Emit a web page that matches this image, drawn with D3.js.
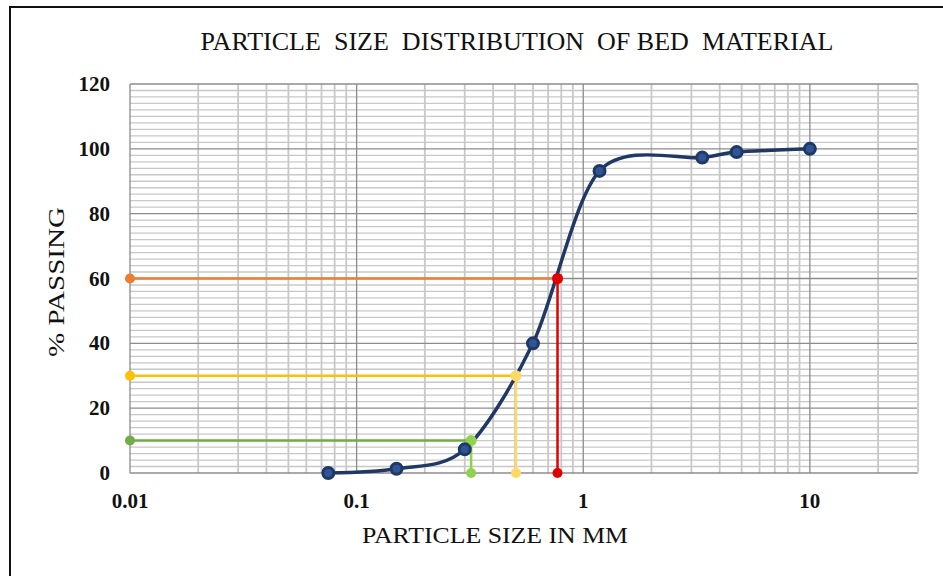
<!DOCTYPE html>
<html>
<head>
<meta charset="utf-8">
<script src="https://cdn.jsdelivr.net/npm/d3@7"></script>
<style>
  html, body { margin: 0; padding: 0; background: #fff; }
  svg { display: block; }
</style>
</head>
<body>
<div id="chart"></div>
<script>
// sieve results
const sizes = [0.075, 0.15, 0.3, 0.6, 1.18, 3.35, 4.75, 10];
const passing = [0, 1.3, 7.3, 40, 93.2, 97.3, 99, 100];

// D10 / D30 / D60 reading lines
const refLabels = ['D10', 'D30', 'D60'];
const refPercent = [10, 30, 60];
const refSize = [0.32, 0.505, 0.77];
const refHColor = ['#70AD47', '#FFC000', '#ED7D31'];
const refVColor = ['#92D050', '#FFD966', '#E00000'];

const yTicks = [0, 20, 40, 60, 80, 100, 120];
const xTicks = [0.01, 0.1, 1, 10];

const width = 943, height = 576;
const margin = { top: 84, right: 25, bottom: 103, left: 130 };

const svg = d3.select('#chart').append('svg')
  .attr('width', width)
  .attr('height', height);

// frame (left + top edges only, as cropped in the source)
svg.append('path')
  .attr('d', `M10,${height} V7 H${width}`)
  .attr('fill', 'none')
  .attr('stroke', '#111')
  .attr('stroke-width', 2);

const x = d3.scaleLog().domain([0.01, 30]).range([margin.left, width - margin.right]);
const y = d3.scaleLinear().domain([0, 120]).range([height - margin.bottom, margin.top]);

const grid = svg.append('g');

// minor horizontal lines every 2%
const yMinor = d3.range(0, 121, 2).filter(v => v % 20 !== 0);
grid.selectAll('.hminor').data(yMinor).join('line')
  .attr('x1', x.range()[0]).attr('x2', x.range()[1])
  .attr('y1', d => y(d)).attr('y2', d => y(d))
  .attr('stroke', '#c8c8c8').attr('stroke-width', 1.3);

// minor vertical lines 2..9 of each decade
const xMinor = x.ticks().filter(v => !xTicks.includes(v) && v <= 30);
grid.selectAll('.vminor').data(xMinor).join('line')
  .attr('x1', d => x(d)).attr('x2', d => x(d))
  .attr('y1', y(0)).attr('y2', y(120))
  .attr('stroke', '#c8c8c8').attr('stroke-width', 1.8);

grid.selectAll('.hmajor').data(yTicks).join('line')
  .attr('x1', x.range()[0]).attr('x2', x.range()[1])
  .attr('y1', d => y(d)).attr('y2', d => y(d))
  .attr('stroke', '#8c8c8c').attr('stroke-width', 1.3);

grid.selectAll('.vmajor').data(xTicks).join('line')
  .attr('x1', d => x(d)).attr('x2', d => x(d))
  .attr('y1', y(0)).attr('y2', y(120))
  .attr('stroke', '#8c8c8c').attr('stroke-width', 1.3);

grid.append('line')
  .attr('x1', x(30)).attr('x2', x(30))
  .attr('y1', y(0)).attr('y2', y(120))
  .attr('stroke', '#cfcfcf').attr('stroke-width', 2);

// axis labels
const serif = '"Liberation Serif", "DejaVu Serif", serif';

svg.append('g').selectAll('text').data(yTicks).join('text')
  .attr('x', 110).attr('y', d => y(d) + 7)
  .attr('text-anchor', 'end')
  .attr('font-family', serif).attr('font-weight', 'bold').attr('font-size', 21)
  .attr('fill', '#111')
  .text(d => d);

svg.append('g').selectAll('text').data(xTicks).join('text')
  .attr('x', d => x(d)).attr('y', 508)
  .attr('text-anchor', 'middle')
  .attr('font-family', serif).attr('font-weight', 'bold').attr('font-size', 21)
  .attr('fill', '#111')
  .text(d => d);

svg.append('text')
  .attr('x', 517).attr('y', 50)
  .attr('text-anchor', 'middle')
  .attr('font-family', serif).attr('font-size', 25)
  .attr('fill', '#111')
  .attr('textLength', 633)
  .attr('lengthAdjust', 'spacingAndGlyphs')
  .style('white-space', 'pre')
  .text('PARTICLE  SIZE  DISTRIBUTION  OF BED  MATERIAL');

svg.append('text')
  .attr('x', 495).attr('y', 543)
  .attr('text-anchor', 'middle')
  .attr('font-family', serif).attr('font-size', 24)
  .attr('fill', '#111')
  .attr('textLength', 266)
  .attr('lengthAdjust', 'spacingAndGlyphs')
  .text('PARTICLE SIZE IN MM');

svg.append('text')
  .attr('transform', 'translate(64,282) rotate(-90)')
  .attr('text-anchor', 'middle')
  .attr('font-family', serif).attr('font-size', 24)
  .attr('fill', '#111')
  .attr('textLength', 150)
  .attr('lengthAdjust', 'spacingAndGlyphs')
  .text('% PASSING');

// reference lines
const refs = refLabels.map((k, i) => ({
  key: k, p: refPercent[i], d: refSize[i], hc: refHColor[i], vc: refVColor[i]
}));

const refG = svg.append('g');
refs.forEach(r => {
  refG.append('line')
    .attr('x1', x(0.01)).attr('x2', x(r.d))
    .attr('y1', y(r.p)).attr('y2', y(r.p))
    .attr('stroke', r.hc).attr('stroke-width', 2.5);
  refG.append('circle')
    .attr('cx', x(0.01)).attr('cy', y(r.p)).attr('r', 5)
    .attr('fill', r.hc);
});

// main gradation curve
const pts = sizes.map((s, i) => [x(s), y(passing[i])]);
svg.append('path')
  .attr('d', d3.line().curve(d3.curveCardinal.tension(0.1))(pts))
  .attr('fill', 'none')
  .attr('stroke', '#1F3864')
  .attr('stroke-width', 3.5);

refs.forEach(r => {
  refG.append('line')
    .attr('x1', x(r.d)).attr('x2', x(r.d))
    .attr('y1', y(r.p)).attr('y2', y(0))
    .attr('stroke', r.vc).attr('stroke-width', 2.5);
});
refs.forEach(r => {
  svg.append('circle')
    .attr('cx', x(r.d)).attr('cy', y(0)).attr('r', 5)
    .attr('fill', r.vc);
  svg.append('circle')
    .attr('cx', x(r.d)).attr('cy', y(r.p)).attr('r', 5.5)
    .attr('fill', r.key === 'D60' ? '#E00000' : r.vc);
});

svg.append('g').selectAll('circle').data(pts).join('circle')
  .attr('cx', d => d[0]).attr('cy', d => d[1])
  .attr('r', 5.5)
  .attr('fill', '#2F5597')
  .attr('stroke', '#1F3864')
  .attr('stroke-width', 3);
</script>
</body>
</html>
